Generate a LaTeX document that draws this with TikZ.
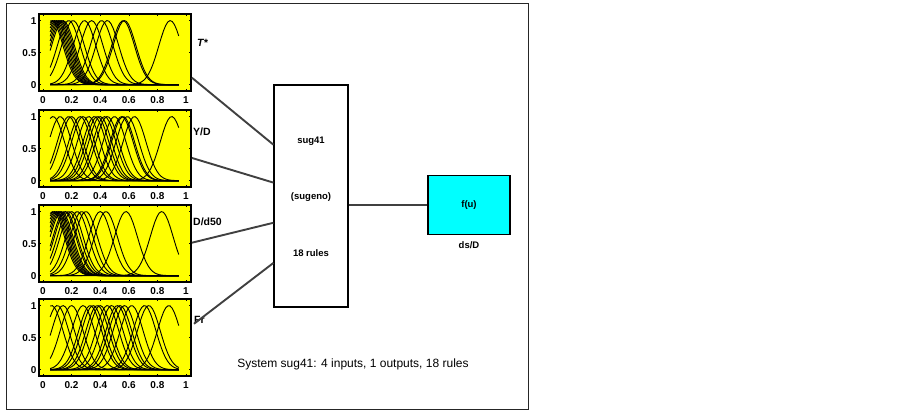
\documentclass[tikz,border=0pt]{standalone}
\usepackage{fontspec}
\setmainfont{Liberation Sans}
\usepackage[HTML]{xcolor}
\usetikzlibrary{positioning, calc}

\definecolor{mfyellow}{HTML}{FFFF00}
\definecolor{outcyan}{HTML}{00FFFF}
\definecolor{linkgray}{HTML}{404040}

\tikzset{
  mfbox/.style={draw, line width=1.8pt, fill=mfyellow, minimum width=152pt, minimum height=77pt, inner sep=0pt},
  mfcurve/.style={line width=0.9pt},
  ticklab/.style={font=\fontsize{10}{10}\selectfont\bfseries, inner sep=0pt},
  varlab/.style={font=\fontsize{10.5}{11}\selectfont\bfseries, inner sep=0pt, anchor=west},
  boxtext/.style={font=\fontsize{9.5}{10}\selectfont\bfseries, inner sep=0pt},
  link/.style={draw=linkgray, line width=1.9pt},
}

% one input panel: name, top edge, centres of the gaussian MFs
\newcommand{\mfplot}[3]{%
  \node[mfbox] (#1) at (115,#2+38.5) {};
  \begin{scope}[shift={(43,#2+70.6)}, x=143pt, y=64pt]
    \foreach \ctr in {#3}
      \draw[mfcurve] plot[domain=0.05:0.95, samples=60] (\x,{exp(-(\x-\ctr)^2/0.0128)});
    \foreach \tk [count=\i] in {0,0.2,0.4,0.6,0.8,1} {
      \draw[line width=0.6pt] (\tk,-0.1) -- (\tk,-0.065) (\tk,1.1) -- (\tk,1.065);
      \node[ticklab] (#1x\i) at (\tk,-0.245) {\tk};
    }
    \foreach \v [count=\i] in {0,0.5,1} {
      \draw[line width=0.6pt] (-0.028,\v) -- (-0.012,\v) (1.035,\v) -- (1.019,\v);
      \node[ticklab, anchor=east] (#1y\i) at (-0.045,\v) {\v};
    }
  \end{scope}
}

\begin{document}
\begin{tikzpicture}[x=1pt, y=-1pt]
  \useasboundingbox (0,0) rectangle (903,411);

  % 1. Frame
  \draw[line width=0.9pt, black!85] (6.5,3.5) rectangle (528,409);

  % 2. Input membership functions
  \mfplot{inT}{14}{0.06,0.07,0.08,0.09,0.10,0.11,0.12,0.13,0.14,0.18,0.21,0.29,0.34,0.41,0.45,0.56,0.57,0.89}
  \mfplot{inY}{110}{0.07,0.12,0.18,0.2,0.26,0.28,0.32,0.36,0.38,0.4,0.43,0.45,0.5,0.55,0.56,0.59,0.64,0.9}
  \mfplot{inD}{205}{0.07,0.08,0.09,0.1,0.11,0.12,0.13,0.15,0.16,0.18,0.2,0.24,0.27,0.3,0.4,0.44,0.58,0.83}
  \mfplot{inF}{299}{0.06,0.1,0.14,0.2,0.28,0.33,0.35,0.38,0.4,0.45,0.48,0.52,0.54,0.57,0.62,0.71,0.74,0.88}

  % 3. Input names
  \node[varlab] (labT) at (197,43) {\itshape T*};
  \node[varlab] (labY) at (193,132) {Y/D};
  \node[varlab] (labD) at (193,222) {D/d50};
  \node[varlab] (labF) at (194,320) {Fr};

  % 4. FIS block
  \node[draw, line width=1.2pt, fill=white, minimum width=74pt, minimum height=222pt] (fis) at (311,196) {};
  \node[boxtext] (fisname) at (311,141) {sug41};
  \node[boxtext] (fistype) at (311,197) {(sugeno)};
  \node[boxtext] (fisrules) at (311,253) {18 rules};

  % 5. Output block
  \node[draw, line width=1.4pt, fill=outcyan, minimum width=82pt, minimum height=59pt, boxtext] (out) at (469,205) {f(u)};
  \node[boxtext, below=6pt of out] (outlab) {ds/D};

  % 6. Connectors
  \draw[link] ($(inT.north east)!0.82!(inT.south east)$) -- ($(fis.north west)!0.27!(fis.south west)$);
  \draw[link] ($(inY.north east)!0.62!(inY.south east)$) -- ($(fis.north west)!0.44!(fis.south west)$);
  \draw[link] ($(inD.north east)!0.49!(inD.south east)$) -- ($(fis.north west)!0.62!(fis.south west)$);
  \draw[link] (labF.south west) -- ($(fis.north west)!0.80!(fis.south west)$);
  \draw[link] (out.west -| fis.east) -- (out.west);

  % 7. Caption
  \node[font=\fontsize{12}{12}\selectfont, inner sep=0pt] (caption) at (353,364) {System sug41: 4 inputs, 1 outputs, 18 rules};
\end{tikzpicture}
\end{document}
